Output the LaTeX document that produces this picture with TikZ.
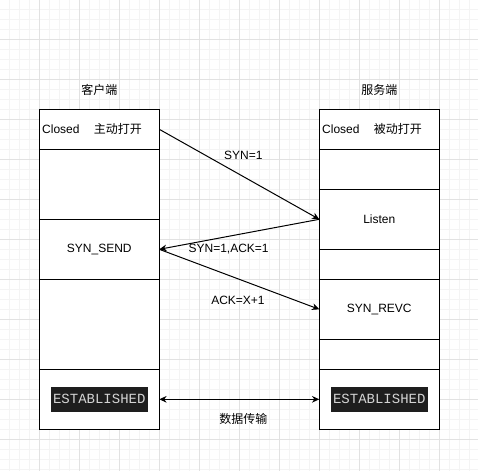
\documentclass[tikz,border=0pt]{standalone}
\usepackage{fontspec}
\setmainfont{Liberation Sans}
\newfontfamily\cjk{Noto Sans CJK SC}
\newfontfamily\codefont{Liberation Mono}
\usetikzlibrary{arrows.meta,positioning}
\tikzset{>/.tip={Stealth[length=5.5pt,width=5pt]}}
\tikzset{cell/.style={draw,fill=white,line width=0.75pt,minimum width=90pt,inner sep=0pt,outer sep=0pt,anchor=north}}
\tikzset{msg/.style={font=\fontsize{9pt}{11pt}\selectfont}}
\tikzset{codebox/.style={fill=codebg,text=codefg,font=\codefont\fontsize{10.5pt}{12pt}\selectfont,
    minimum height=18.75pt,inner xsep=1.5pt,inner ysep=0pt}}
\definecolor{codebg}{HTML}{1E1E1E}
\definecolor{codefg}{HTML}{D4D4D4}
\definecolor{majorgrid}{HTML}{E2E2E2}
\definecolor{minorgrid}{HTML}{F4F4F4}

\begin{document}
\begin{tikzpicture}[x=0.75pt,y=-0.75pt,font=\fontsize{9pt}{11pt}\selectfont]
        \useasboundingbox[fill=white] (0,0) rectangle (478,471);
        % grid
        \foreach \g in {9.3,19.3,...,478}{
          \draw[minorgrid,line width=0.75pt] (\g,0) -- (\g,471);
          \draw[minorgrid,line width=0.75pt] (0,\g) -- (478,\g);}
        \foreach \g in {39.3,79.3,...,478}{
          \draw[majorgrid,line width=0.75pt] (\g,0) -- (\g,471);
          \draw[majorgrid,line width=0.75pt] (0,\g) -- (478,\g);}
        % client
        \path (99.3,90) node(client){\cjk 客户端};
        \node(c1)[cell,minimum height=30pt] at (99.3,109.3){};
        \node(c2)[cell,minimum height=52.5pt,below=0pt of c1]{};
        \node(c3)[cell,minimum height=45pt,below=0pt of c2]{SYN\_SEND};
        \node(c4)[cell,minimum height=67.5pt,below=0pt of c3]{};
        \node(c5)[cell,minimum height=45pt,below=0pt of c4]{};
        \node[codebox] at (c5.center){ESTABLISHED};
        \node[anchor=west,inner sep=0pt] at ([xshift=2pt]c1.west){Closed\hspace{1.2em}{\cjk 主动打开}};
        % server
        \path (379.3,90) node(server){\cjk 服务端};
        \node(s1)[cell,minimum height=30pt] at (379.3,109.3){};
        \node(s2)[cell,minimum height=30pt,below=0pt of s1]{};
        \node(s3)[cell,minimum height=45pt,below=0pt of s2]{Listen};
        \node(s4)[cell,minimum height=22.5pt,below=0pt of s3]{};
        \node(s5)[cell,minimum height=45pt,below=0pt of s4]{SYN\_REVC};
        \node(s6)[cell,minimum height=22.5pt,below=0pt of s5]{};
        \node(s7)[cell,minimum height=45pt,below=0pt of s6]{};
        \node[codebox] at (s7.center){ESTABLISHED};
        \node[anchor=west,inner sep=0pt] at ([xshift=2pt]s1.west){Closed\hspace{1.2em}{\cjk 被动打开}};
        % messages
        \draw[->,line width=0.75pt]
        (c1.east) -- node[msg,xshift=3pt,yshift=14pt]{SYN=1} (s3.west);
        \draw[->,line width=0.75pt]
        (s3.west) -- node[msg,xshift=-8pt,yshift=-11pt]{SYN=1,ACK=1} (c3.east);
        \draw[->,line width=0.75pt]
        (c3.east) -- node[msg,xshift=-1pt,yshift=-16pt]{ACK=X+1} (s5.west);
        \draw[<->,line width=0.75pt]
        (c5.east) -- node[msg,xshift=3pt,yshift=-14.5pt]{\cjk 数据传输} (s7.west);
      \end{tikzpicture}
\end{document}
